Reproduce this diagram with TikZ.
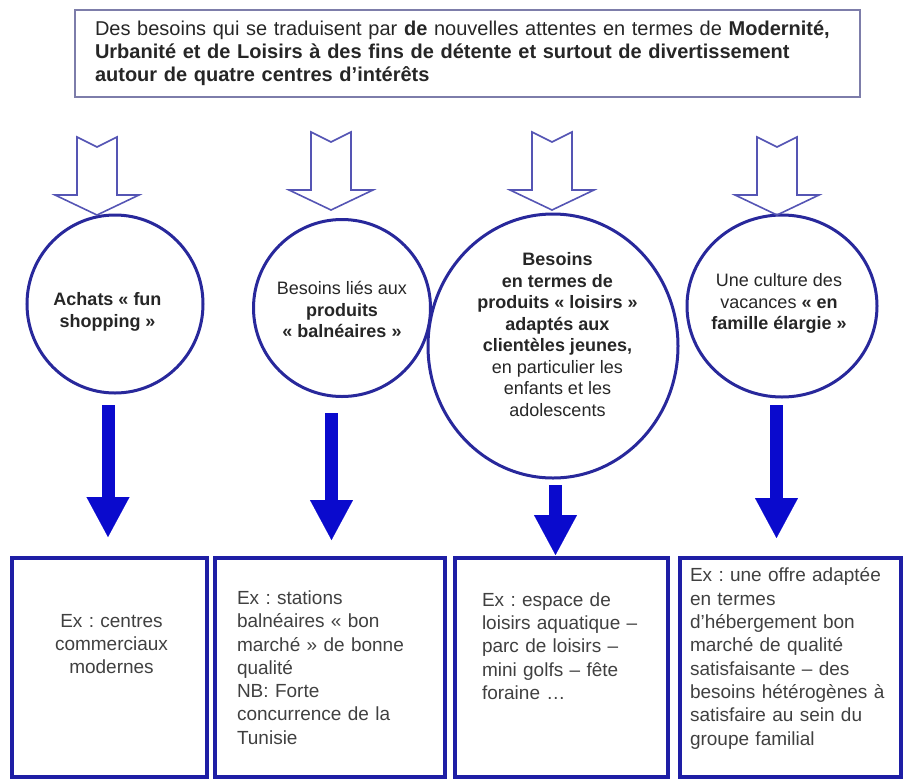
\documentclass[tikz,border=0pt]{standalone}
\usepackage{fontspec}
\setmainfont{Liberation Sans}
\usepackage{xcolor}
\usepackage{tikz}
\usetikzlibrary{shapes.geometric,arrows.meta}
\frenchspacing
\definecolor{headgray}{RGB}{125,125,170}
\definecolor{needblue}{RGB}{40,40,155}
\definecolor{hollowblue}{RGB}{85,85,180}
\definecolor{arrowblue}{RGB}{10,10,205}
\definecolor{boxblue}{RGB}{30,30,165}
\tikzstyle{header} = [rectangle, draw=headgray, line width=1.5pt, minimum width=785pt,
    minimum height=87pt, inner sep=0pt, text width=745pt, align=left,
    font=\fontsize{20}{23}\selectfont, text=black!85]
\tikzstyle{need} = [ellipse, draw=needblue, line width=3pt, inner sep=0pt]
\tikzstyle{needtext} = [align=center, inner sep=0pt, font=\fontsize{18}{21.5}\selectfont, text=black!85]
\tikzstyle{example} = [rectangle, draw=boxblue, line width=4pt, minimum height=219pt, inner sep=0pt]
\tikzstyle{exampletext} = [align=left, inner sep=0pt, font=\fontsize{19}{23.3}\selectfont, text=black!75]
\tikzstyle{arrow} = [draw=arrowblue, line width=13pt, -{Triangle[width=43pt,length=40pt,line width=0.1pt]}]
\tikzstyle{hollow} = [draw=hollowblue, line width=1.6pt, line join=miter]
\newcommand{\hollowarrow}[1]{\path [hollow] (#1) -- ++(-42,-20) -- ++(22,0) -- ++(0,-58)
    -- ++(20,10) -- ++(20,-10) -- ++(0,58) -- ++(22,0) -- cycle;}

\begin{document}
\begin{tikzpicture}[x=1pt, y=-1pt, node distance=227pt]
    \useasboundingbox (0,0) rectangle (903,780);
    % Place nodes
    \node [header] (intro) at (467.5,53.5) {Des besoins qui se traduisent par \textbf{de} nouvelles attentes en termes de \textbf{Modernité,}\\
        \textbf{Urbanité et de Loisirs à des fins de détente et surtout de divertissement}\\
        \textbf{autour de quatre centres d'intérêts}};

    \node [need, minimum width=176pt, minimum height=178pt] (shopping) at (115,304) {};
    \node [need, minimum width=177pt, minimum height=177pt, right of=shopping, yshift=-4pt] (seaside) {};
    \node [need, minimum width=250pt, minimum height=264pt, right of=seaside, node distance=211pt, yshift=-38pt] (leisure) {};
    \node [need, minimum width=190pt, minimum height=182pt, right of=leisure, node distance=229pt, yshift=40pt] (family) {};

    \node [needtext, below of=shopping, node distance=8pt, xshift=-7.5pt] (shoppingtext) {\textbf{Achats « fun}\\\textbf{shopping »}};
    \node [needtext, below of=seaside, node distance=1.5pt] (seasidetext) {Besoins liés aux\\\textbf{produits}\\\textbf{« balnéaires »}};
    \node [needtext, above of=leisure, node distance=11.5pt, xshift=4.5pt] (leisuretext) {\textbf{Besoins}\\\textbf{en termes de}\\\textbf{produits « loisirs »}\\
        \textbf{adaptés aux}\\\textbf{clientèles jeunes,}\\en particulier les\\enfants et les\\adolescents};
    \node [needtext, above of=family, node distance=2.5pt, xshift=-3pt] (familytext) {Une culture des\\vacances \textbf{« en}\\\textbf{famille élargie »}};

    \node [example, minimum width=195pt, below of=shopping, node distance=363.5pt, xshift=-5.5pt] (malls) {};
    \node [example, minimum width=230pt, below of=seaside, node distance=359.5pt, xshift=-12pt] (resorts) {};
    \node [example, minimum width=213pt, below of=leisure, node distance=321.5pt, xshift=8.5pt] (parks) {};
    \node [example, minimum width=221pt, below of=family, node distance=361.5pt, xshift=8.5pt] (lodging) {};

    \node [exampletext, align=center, text width=170pt, above of=malls, node distance=23.5pt, xshift=2pt] (mallstext) {Ex : centres\\commerciaux\\modernes};
    \node [exampletext, text width=186pt] (resortstext) at (resorts) {Ex : stations\\balnéaires « bon\\marché » de bonne\\qualité\\NB: Forte\\concurrence de la\\Tunisie};
    \node [exampletext, text width=159pt, above of=parks, node distance=21.5pt] (parkstext) {Ex : espace de\\loisirs aquatique –\\parc de loisirs –\\mini golfs – fête\\foraine …};
    \node [exampletext, text width=201pt, above of=lodging, node distance=9pt] (lodgingtext) {Ex : une offre adaptée\\en termes\\d'hébergement bon\\marché de qualité\\satisfaisante – des\\besoins hétérogènes à\\satisfaire au sein du\\groupe familial};

    % hollow arrows
    \hollowarrow{[xshift=-18pt, yshift=-1.5pt]shopping.north}
    \hollowarrow{[xshift=-11pt, yshift=8pt]seaside.north}
    \hollowarrow{[xshift=-1pt, yshift=2.5pt]leisure.north}
    \hollowarrow{[xshift=-5pt, yshift=-1.5pt]family.north}

    \path [arrow, shorten <=10.5pt, shorten >=19pt] ([xshift=-7pt]shopping.south) -- ([xshift=-7pt]shopping.south |- malls.north);
    \path [arrow, shorten <=15pt, shorten >=16pt] ([xshift=-10.5pt]seaside.south) -- ([xshift=-10.5pt]seaside.south |- resorts.north);
    \path [arrow, shorten <=5.5pt, shorten >=1pt] ([xshift=2.5pt]leisure.south) -- ([xshift=2.5pt]leisure.south |- parks.north);
    \path [arrow, shorten <=6.5pt, shorten >=18pt] ([xshift=-5.5pt]family.south) -- ([xshift=-5.5pt]family.south |- lodging.north);
\end{tikzpicture}
\end{document}
